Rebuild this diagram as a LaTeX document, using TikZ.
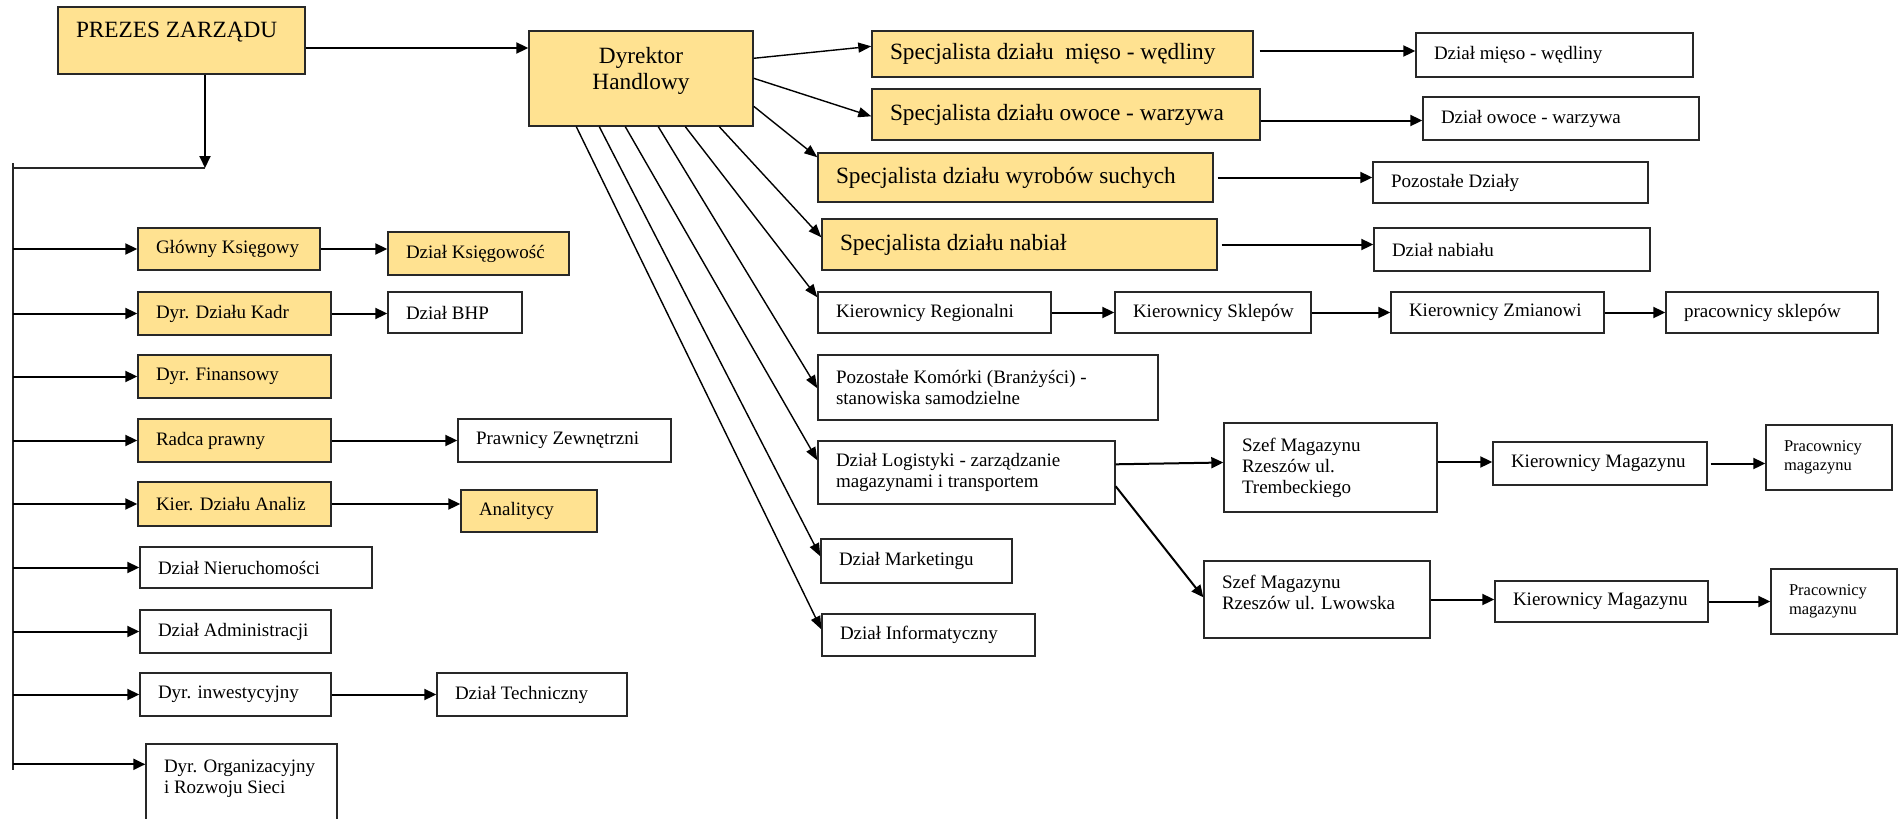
\documentclass[tikz,border=0pt]{standalone}
\usepackage{fontspec}
\setmainfont{Liberation Serif}
\usetikzlibrary{arrows.meta}
\definecolor{boxyellow}{RGB}{255,226,145}
\definecolor{boxline}{RGB}{40,40,40}
\tikzset{
  ybox/.style={draw=boxline, line width=1.4pt, fill=boxyellow, inner sep=0pt},
  wbox/.style={draw=boxline, line width=1.4pt, fill=white, inner sep=0pt},
  nrm/.style={font=\fontsize{19}{21}\selectfont},
  big/.style={font=\fontsize{23.3}{26}\selectfont},
  sml/.style={font=\fontsize{16.5}{18.5}\selectfont},
  txt/.style={inner sep=0pt, align=left, text=black},
  arr/.style={line width=2pt, -{Triangle[length=12pt,width=11pt]}},
  darr/.style={line width=1.4pt, -{Triangle[length=13pt,width=10pt]}},
  busline/.style={line width=1.8pt, draw=black!85},
}
\newcommand\bx[8][nrm]{%
  \pgfmathsetmacro\bxw{#5-#3}%
  \pgfmathsetmacro\bxh{#6-#4}%
  \pgfmathsetmacro\bxcx{(#3+#5)/2}%
  \pgfmathsetmacro\bxcy{(#4+#6)/2}%
  \node[#7, minimum width=\bxw pt, minimum height=\bxh pt] (#2) at (\bxcx,\bxcy) {};%
  \node[txt, #1, anchor=west] (#2-t) at ([xshift=18.5pt]#2.west) {#8};%
}
\begin{document}
\begin{tikzpicture}[x=1pt,y=-1pt]
\clip (0,0) rectangle (1903,819);
\fill[white] (0,0) rectangle (1903,819);

% top / commercial branch
\bx[big,yshift=8.5pt]{prezes}{58}{7}{305}{74}{ybox}{PREZES ZARZĄDU}
\bx{dyr}{529}{31}{753}{126}{ybox}{}
\node[txt, big, align=center] (dyr-c) at ([yshift=8pt]dyr.center) {Dyrektor\\Handlowy};
\bx[big]{spec1}{872}{31}{1253}{77}{ybox}{Specjalista działu\ \ mięso - wędliny}
\bx[big]{spec2}{872}{89}{1260}{140}{ybox}{Specjalista działu owoce - warzywa}
\bx[big]{spec3}{818}{153}{1213}{202}{ybox}{Specjalista działu wyrobów suchych}
\bx[big]{spec4}{822}{219}{1217}{270}{ybox}{Specjalista działu nabiał}
\bx{dmieso}{1416}{33}{1693}{77}{wbox}{Dział mięso - wędliny}
\bx{dowoce}{1423}{97}{1699}{140}{wbox}{Dział owoce - warzywa}
\bx{pdzialy}{1373}{162}{1648}{203}{wbox}{Pozostałe Działy}
\bx{dnabial}{1374}{228}{1650}{271}{wbox}{Dział nabiału}
\bx{kreg}{818}{292}{1051}{333}{wbox}{Kierownicy Regionalni}
\bx{kskl}{1115}{292}{1311}{333}{wbox}{Kierownicy Sklepów}
\bx{kzm}{1391}{292}{1604}{333}{wbox}{Kierownicy Zmianowi}
\bx{psk}{1666}{292}{1878}{333}{wbox}{pracownicy sklepów}
\bx{pkom}{818}{355}{1158}{420}{wbox}{Pozostałe Komórki (Branżyści) -\\stanowiska samodzielne}
\bx{dlog}{818}{441}{1115}{504}{wbox}{Dział Logistyki - zarządzanie\\magazynami i transportem}
\bx{dmark}{821}{539}{1012}{583}{wbox}{Dział Marketingu}
\bx{dinf}{822}{614}{1035}{656}{wbox}{Dział Informatyczny}
\bx{szeft}{1224}{423}{1437}{512}{wbox}{Szef Magazynu\\Rzeszów ul.\\Trembeckiego}
\bx[nrm,yshift=7pt]{szefl}{1204}{561}{1430}{638}{wbox}{Szef Magazynu\\Rzeszów ul. Lwowska}
\bx{kma}{1493}{442}{1707}{485}{wbox}{Kierownicy Magazynu}
\bx{kmb}{1495}{581}{1708}{622}{wbox}{Kierownicy Magazynu}
\bx[sml]{pma}{1766}{425}{1892}{490}{wbox}{Pracownicy\\magazynu}
\bx[sml]{pmb}{1771}{569}{1897}{634}{wbox}{Pracownicy\\magazynu}

% left branch
\bx{gk}{138}{228}{320}{270}{ybox}{Główny Księgowy}
\bx{dk}{388}{232}{569}{275}{ybox}{Dział Księgowość}
\bx{kadr}{138}{292}{331}{335}{ybox}{Dyr. Działu Kadr}
\bx{bhp}{388}{292}{522}{333}{wbox}{Dział BHP}
\bx{fin}{138}{355}{331}{398}{ybox}{Dyr. Finansowy}
\bx{rp}{138}{419}{331}{462}{ybox}{Radca prawny}
\bx{pz}{458}{419}{671}{462}{wbox}{Prawnicy Zewnętrzni}
\bx{kda}{138}{482}{331}{526}{ybox}{Kier. Działu Analiz}
\bx{anal}{461}{490}{597}{532}{ybox}{Analitycy}
\bx{nier}{140}{547}{372}{588}{wbox}{Dział Nieruchomości}
\bx{adm}{140}{610}{331}{653}{wbox}{Dział Administracji}
\bx{dinw}{140}{673}{331}{716}{wbox}{Dyr. inwestycyjny}
\bx{dtech}{437}{673}{627}{716}{wbox}{Dział Techniczny}
\bx[nrm,yshift=8pt]{org}{146}{744}{337}{830}{wbox}{Dyr. Organizacyjny\\i Rozwoju Sieci}

% bus on the left
\coordinate (hub) at (205,168);
\coordinate (bustop) at (13,163);
\coordinate (busbot) at (13,770);
\draw[arr] (prezes.south -| hub) -- (hub);
\draw[busline] (hub) -- (hub -| bustop);
\draw[busline] (bustop) -- (busbot);
\foreach \n in {gk,kadr,fin,rp,kda,nier,adm,dinw}{
  \draw[arr] (bustop |- \n.west) -- (\n.west);
}
\coordinate (orgin) at ([yshift=-21pt]org.north west);
\draw[arr] (bustop |- orgin) -- (orgin);

% left horizontal arrows
\draw[arr] (gk.east) -- (gk.east -| dk.west);
\draw[arr] (kadr.east) -- (kadr.east -| bhp.west);
\draw[arr] (rp.east) -- (rp.east -| pz.west);
\draw[arr] (kda.east) -- (kda.east -| anal.west);
\draw[arr] (dinw.east) -- (dinw.east -| dtech.west);

% prezes -> dyrektor
\coordinate (pout) at ([yshift=-7.5pt]prezes.east);
\draw[arr] (pout) -- (pout -| dyr.west);

% dyrektor fan
\draw[darr] ([yshift=-28pt]dyr.north east) -- ([yshift=-16pt]spec1.north west);
\draw[darr] ([yshift=-48pt]dyr.north east) -- ([yshift=-28pt]spec2.north west);
\draw[darr] ([yshift=-76pt]dyr.north east) -- ([yshift=-5pt]spec3.north west);
\draw[darr] ([xshift=191pt]dyr.south west) -- ([yshift=-19pt]spec4.north west);
\draw[darr] ([xshift=157pt]dyr.south west) -- ([yshift=-6pt]kreg.north west);
\draw[darr] ([xshift=130pt]dyr.south west) -- ([yshift=-34pt]pkom.north west);
\draw[darr] ([xshift=97pt]dyr.south west) -- ([yshift=-20pt]dlog.north west);
\draw[darr] ([xshift=71pt]dyr.south west) -- ([yshift=-18pt]dmark.north west);
\draw[darr] ([xshift=48pt]dyr.south west) -- ([yshift=-16pt]dinf.north west);

% specialists -> departments
\coordinate (s1o) at ([yshift=3pt]spec1.east);
\coordinate (s2o) at ([yshift=-6pt]spec2.east);
\draw[arr] ([xshift=6pt]s1o) -- (s1o -| dmieso.west);
\draw[arr] (s2o) -- (s2o -| dowoce.west);
\draw[arr] ([xshift=4pt]spec3.east) -- (spec3.east -| pdzialy.west);
\draw[arr] ([xshift=4pt]spec4.east) -- (spec4.east -| dnabial.west);

% shop chain
\draw[arr] (kreg.east) -- (kreg.east -| kskl.west);
\draw[arr] (kskl.east) -- (kskl.east -| kzm.west);
\draw[arr] (kzm.east) -- (kzm.east -| psk.west);

% logistics
\draw[arr] ([yshift=-24pt]dlog.north east) -- ([yshift=5pt]szeft.west);
\draw[arr] ([yshift=-46pt]dlog.north east) -- ([yshift=-37pt]szefl.north west);
\coordinate (sto) at ([yshift=5.5pt]szeft.east);
\draw[arr] (sto) -- (sto -| kma.west);
\draw[arr] ([xshift=3pt]kma.east) -- (kma.east -| pma.west);
\draw[arr] (szefl.east) -- (szefl.east -| kmb.west);
\draw[arr] (kmb.east) -- (kmb.east -| pmb.west);
\end{tikzpicture}
\end{document}
